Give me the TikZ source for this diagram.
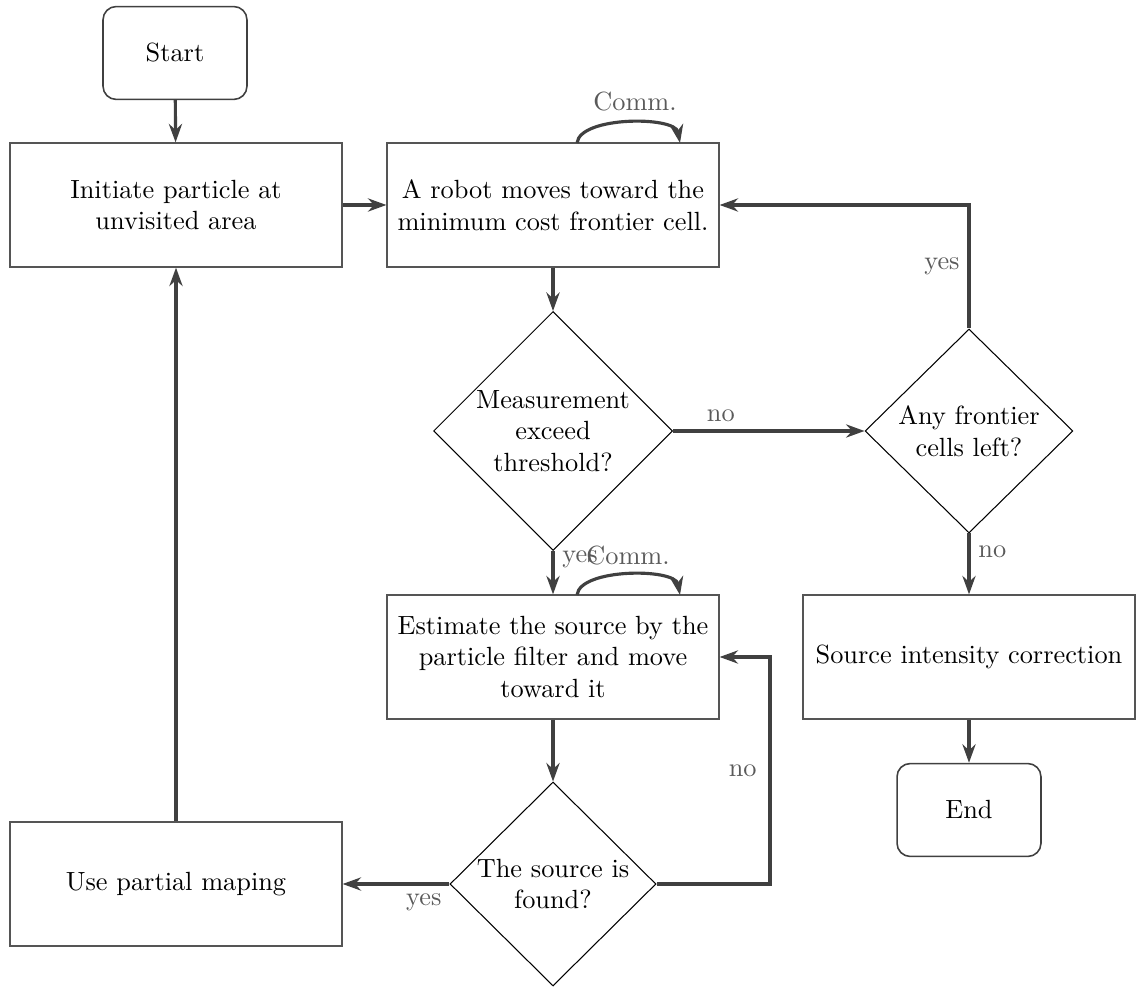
\documentclass[tikz,border=0pt]{standalone}
\usetikzlibrary{shapes.geometric,arrows.meta,calc}
\definecolor{linegray}{HTML}{404040}
\definecolor{boxgray}{HTML}{555555}
\definecolor{labgray}{HTML}{5A5A5A}
\begin{document}
\begin{tikzpicture}[x=0.38pt,y=-0.38pt,
  procbox/.style={draw=boxgray, line width=0.6pt, rectangle, minimum width=126pt, minimum height=47pt, align=center, inner sep=2pt},
  termbox/.style={draw=linegray, line width=0.6pt, rectangle, rounded corners=5pt, minimum width=54.7pt, minimum height=35.3pt, align=center},
  decbox/.style={draw=black, line width=0.4pt, diamond, aspect=1, inner sep=0pt, align=center},
  arr/.style={draw=linegray, line width=1.2pt, -{Stealth[length=7pt,width=5pt]}},
  lab/.style={text=labgray, inner sep=3pt}
]
\useasboundingbox (0,0) rectangle (1137,987);

\node[termbox] (start) at (175,53) {Start};
\node[procbox] (init) at (176,205) {Initiate particle at\\unvisited area};
\node[procbox] (robot) at (553,205) {A robot moves toward the\\minimum cost frontier cell.};
\node[decbox, minimum width=90.8pt, minimum height=90.8pt] (meas) at (553,431) {Measurement\\exceed\\threshold?};
\node[decbox, minimum width=79pt, minimum height=77.5pt] (any) at (969,431) {Any frontier\\cells left?};
\node[procbox] (est) at (553,657) {Estimate the source by the\\particle filter and move\\toward it};
\node[procbox] (src) at (969,657) {Source intensity correction};
\node[termbox] (end) at (969,810) {End};
\node[decbox, minimum width=78.3pt, minimum height=77.5pt] (found) at (553,884) {The source is\\found?};
\node[procbox] (use) at (176,884) {Use partial maping};

\coordinate (c1) at (770,884);
\coordinate (rl1) at (577,143);
\coordinate (rl2) at (680,143);
\coordinate (el1) at (577,595);
\coordinate (el2) at (680,595);

\draw[arr] (start) -- (init);
\draw[arr] (init) -- (robot);
\draw[arr] (robot) -- (meas);
\draw[arr] (meas.east) -- node[lab, above, pos=0.25] {no} (any.west);
\draw[arr] (any.north) |- node[lab, left, pos=0.25] {yes} (robot.east);
\draw[arr] (any.south) -- node[lab, right, pos=0.3] {no} (src);
\draw[arr] (meas.south) -- node[lab, right, pos=0.2] {yes} (est);
\draw[arr] (est) -- (found);
\draw[arr] (found.west) -- node[lab, below, pos=0.24] {yes} (use);
\draw[arr] (found.east) -- (c1) |- node[lab, left, pos=0.25, xshift=-1.5pt] {no} (est.east);
\draw[arr] (use) -- (init);

\draw[arr] (rl1) .. controls (580,116) and (675,116) .. (rl2);
\node[lab] (comm1) at (635,102) {Comm.};
\draw[arr] (el1) .. controls (580,568) and (675,568) .. (el2);
\node[lab] (comm2) at (628,556) {Comm.};
\draw[arr] (src) -- (end);
\end{tikzpicture}
\end{document}
